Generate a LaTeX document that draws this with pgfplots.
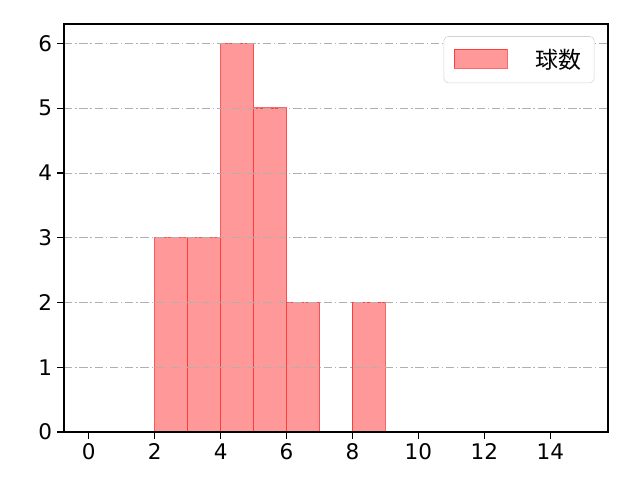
\documentclass[border=0pt]{standalone}
\usepackage{pgfplots}
\pgfplotsset{compat=1.18}
\usepackage{fontspec}
\setmainfont{Noto Sans CJK JP}
\newfontfamily\numfont{DejaVu Sans}
\definecolor{gridgray}{RGB}{176,176,176}
\begin{document}
\begin{tikzpicture}
\useasboundingbox (-46.08pt,-34.56pt) rectangle (414.72pt,311.04pt);
\begin{axis}[
    at={(0pt,0pt)}, anchor=south west,
    scale only axis, width=391.68pt, height=293.76pt,
    xmin=-0.75, xmax=15.75, ymin=0, ymax=6.3,
    xtick={0,2,...,14}, ytick={0,1,...,6},
    tick align=outside, tick pos=lower,
    major tick length=5pt,
    axis on top,
    ymajorgrids, grid style={gridgray, line width=0.6pt, dash pattern=on 6pt off 2pt on 1pt off 2pt},
    axis line style={line width=0.8pt},
    every tick/.style={black, line width=0.8pt},
    every tick label/.append style={font=\numfont\fontsize{15.5}{18}\selectfont},
    /pgf/number format/assume math mode=true,
    legend style={at={(0.975,0.97)}, anchor=north east, draw=gray!35, rounded corners=3pt,
        font=\fontsize{16.5}{18}\selectfont, inner xsep=7pt, inner ysep=7pt,
        column sep=4pt},
    legend image code/.code={\draw[#1, sharp corners] (0cm,-0.22cm) rectangle (1.34cm,0.26cm);},
]
\addplot[ybar interval, fill=red, fill opacity=0.4, draw=red, draw opacity=0.6, line width=1pt]
    coordinates {(2,3) (3,3) (4,6) (5,5) (6,2) (7,2)};
\addlegendentry{\hspace{14pt}球数}
\addplot[ybar interval, fill=red, fill opacity=0.4, draw=red, draw opacity=0.6, line width=1pt, forget plot]
    coordinates {(8,2) (9,2)};
\end{axis}
\end{tikzpicture}
\end{document}
